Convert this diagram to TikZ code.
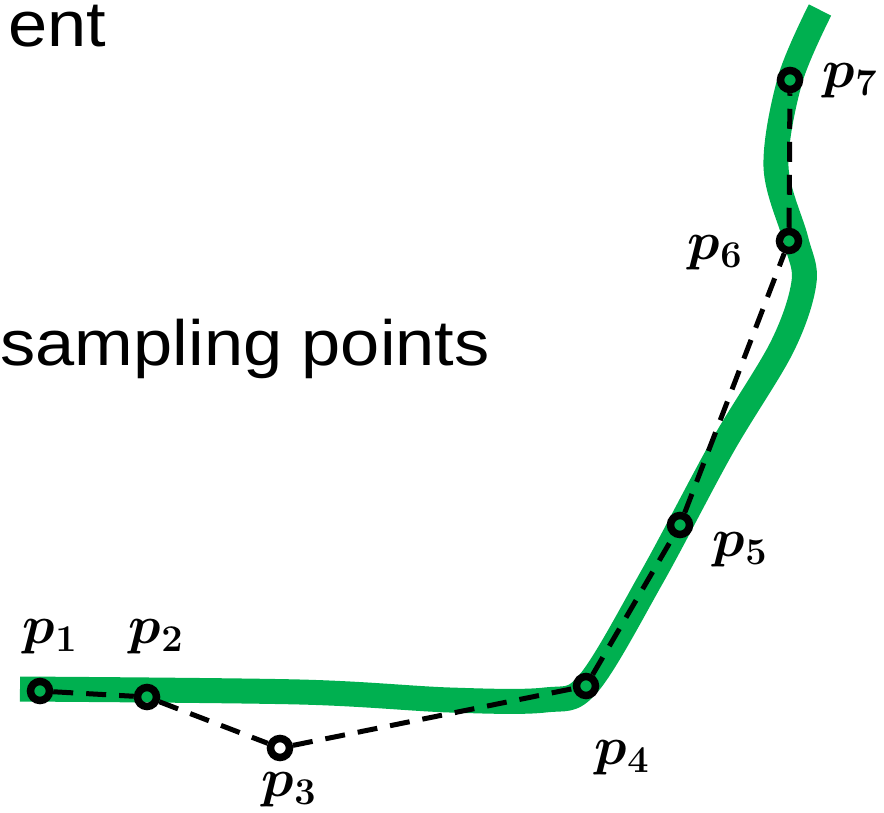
\RequirePackage{fix-cm}
\documentclass[tikz,border=0pt]{standalone}
\usepackage{fontspec}
\setmainfont{Liberation Sans}
\usepackage{bm}
\definecolor{trackgreen}{HTML}{00B050}
\tikzset{
  track/.style={draw=trackgreen, line width=25pt, line cap=butt, line join=round},
  sample/.style={circle, draw=black, line width=7.5pt, minimum size=19pt, inner sep=0pt},
  link/.style={draw=black, line width=5pt, dash pattern=on 20pt off 13pt},
  lab/.style={inner sep=0pt, font=\fontsize{54}{60}\selectfont},
  big/.style={inner sep=0pt, font=\fontsize{64}{74}\selectfont}
}
\begin{document}
\begin{tikzpicture}[x=1pt, y=-1pt]
\useasboundingbox (0,0) rectangle (884,812);
\clip (0,0) rectangle (884,812);
% texts
\node[big, anchor=base west] (t1) at (8,46) {\scalebox{1.1}[1]{ent}};
\node[big, anchor=base east] (t2) at (490,365) {\scalebox{1.1}[1]{sampling points}};
% green track
\draw[track] plot[smooth, tension=0.55] coordinates {
  (20,689) (300,692) (450,700) (545,700) (588,684)
  (652,577) (722,447) (782,347) (804,282) (796,240)
  (776,167) (790,80) (820,10)};
% sample points
\node[sample] (p1) at (40,691) {};
\node[sample] (p2) at (147,697) {};
\node[sample] (p3) at (280,748) {};
\node[sample] (p4) at (586,686) {};
\node[sample] (p5) at (680,525) {};
\node[sample] (p6) at (789,241) {};
\node[sample] (p7) at (790,80) {};
% dashed polyline
\draw[link] (p1) -- (p2);
\draw[link] (p2) -- (p3);
\draw[link] (p3) -- (p4);
\draw[link] (p4) -- (p5);
\draw[link] (p5) -- (p6);
\draw[link] (p6) -- (p7);
% labels
\node[lab] (l1) at (50,637) {$\bm{p}_{\bm{1}}$};
\node[lab] (l2) at (156,637) {$\bm{p}_{\bm{2}}$};
\node[lab] (l3) at (289,790) {$\bm{p}_{\bm{3}}$};
\node[lab] (l4) at (622,758) {$\bm{p}_{\bm{4}}$};
\node[lab] (l5) at (740,550) {$\bm{p}_{\bm{5}}$};
\node[lab] (l6) at (715,253) {$\bm{p}_{\bm{6}}$};
\node[lab] (l7) at (850,81) {$\bm{p}_{\bm{7}}$};
\end{tikzpicture}
\end{document}
